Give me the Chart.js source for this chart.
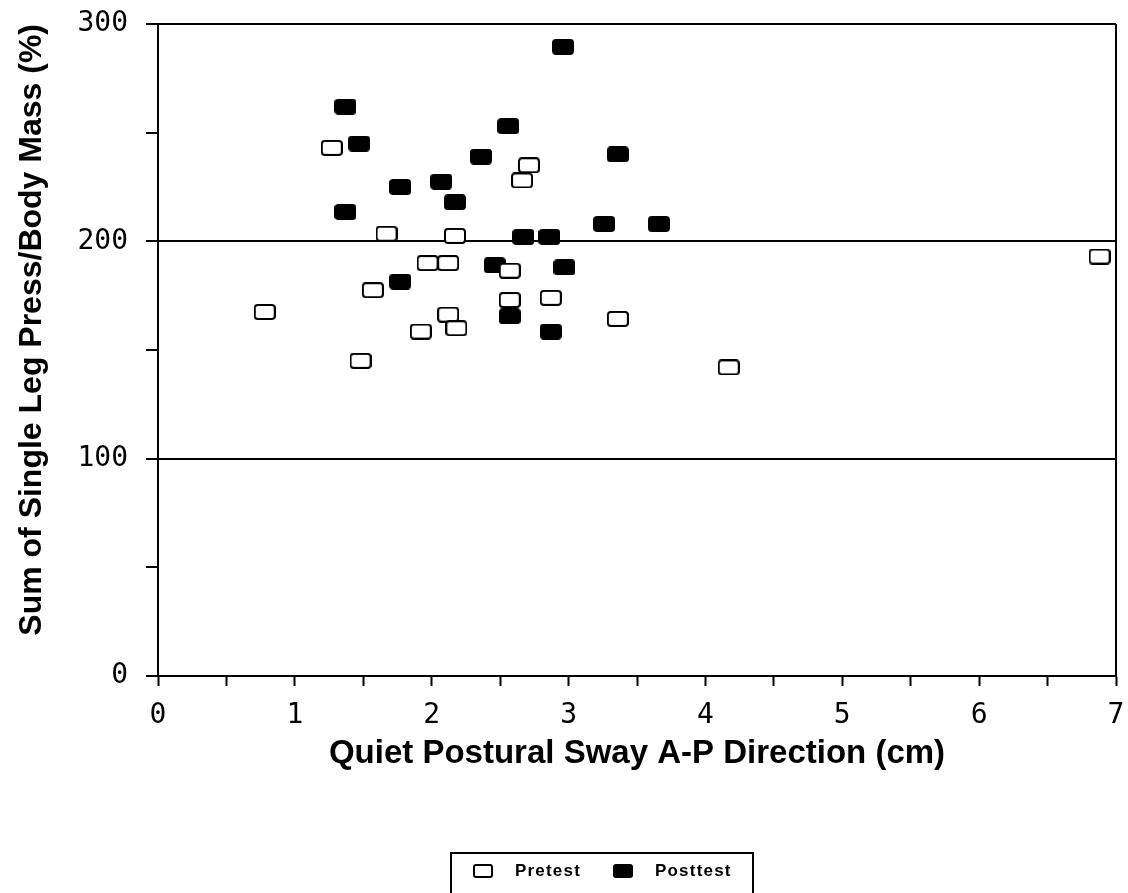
<!DOCTYPE html>
<html lang="en">
<head>
<meta charset="UTF-8">
<title>Leg press vs postural sway</title>
<script src="https://cdn.jsdelivr.net/npm/chart.js"></script>
<style>
    html, body { margin: 0; padding: 0; background: #fff; }
    .wrap { position: relative; width: 1128px; height: 893px; overflow: hidden; }
    #grafico { position: absolute; left: 0; top: 0; }
    .legenda {
        position: absolute; left: 450px; top: 852px; width: 304px; height: 60px;
        border: 2px solid #000; box-sizing: border-box;
        font-family: "Liberation Sans", Arial, sans-serif; font-weight: bold;
        font-size: 17px; letter-spacing: 1.2px; color: #000;
    }
    .legenda .item { position: absolute; top: 7px; display: flex; align-items: center; }
    .legenda .marca { width: 16px; height: 10px; border: 2px solid #000; border-radius: 3px; margin-right: 22px; }
</style>
</head>
<body>
<div class="wrap">
    <canvas id="grafico" width="1128" height="893"></canvas>
    <div class="legenda">
        <div class="item" style="left: 21px;"><span class="marca" style="background:#fff"></span>Pretest</div>
        <div class="item" style="left: 161px;"><span class="marca" style="background:#000"></span>Posttest</div>
    </div>
</div>

<script>
    // valores
    const pretestX  = [1.27, 1.67, 2.17, 2.71, 2.66, 1.97, 2.12, 2.57, 1.57, 0.78, 2.12, 2.18, 1.92, 1.48, 2.57, 2.87, 3.36, 4.17, 6.88];
    const pretestY  = [243, 203.5, 202.5, 235, 228, 190, 190, 186.5, 177.5, 167.5, 166.3, 160, 158.5, 145, 173, 174, 164.3, 142, 193];

    const posttestX = [1.37, 1.47, 1.37, 1.77, 2.07, 2.17, 2.36, 2.56, 2.96, 3.36, 3.26, 3.66, 2.67, 2.86, 2.46, 1.77, 2.97, 2.57, 2.87];
    const posttestY = [262, 245, 213.5, 225, 227.5, 218, 239, 253, 289.5, 240, 208, 208, 202, 202, 189, 181.5, 188, 165.5, 158.5];

    const xTicks = [0, 1, 2, 3, 4, 5, 6, 7];
    const yTicks = [0, 100, 200, 300];

    function pontos(xs, ys) {
        let lista = [];
        for (let i = 0; i < xs.length; i++) {
            lista.push({ x: xs[i], y: ys[i] });
        }
        return lista;
    }

    // marcador retangular arredondado (mais largo que alto)
    function marcador(preenchido) {
        const c = document.createElement('canvas');
        c.width = 22;
        c.height = 16;
        const g = c.getContext('2d');
        g.beginPath();
        g.roundRect(1, 1, 20, 14, 3);
        g.fillStyle = preenchido ? '#000' : '#fff';
        g.fill();
        g.lineWidth = 2;
        g.strokeStyle = '#000';
        g.stroke();
        return c;
    }

    const bordaDireita = {
        id: 'bordaDireita',
        afterDraw(chart) {
            const a = chart.chartArea;
            const ctx = chart.ctx;
            ctx.save();
            ctx.strokeStyle = '#000';
            ctx.lineWidth = 2;
            ctx.beginPath();
            ctx.moveTo(a.right, a.top);
            ctx.lineTo(a.right, a.bottom);
            ctx.stroke();
            ctx.restore();
        }
    };

    const fonteTicks = { family: '"DejaVu Sans Mono", monospace', size: 28 };

    const config = {
        type: 'scatter',
        data: {
            datasets: [{
                label: 'Pretest',
                data: pontos(pretestX, pretestY),
                pointStyle: marcador(false),
                pointRadius: 1,
                pointHoverRadius: 0,
                borderWidth: 0
            }, {
                label: 'Posttest',
                data: pontos(posttestX, posttestY),
                pointStyle: marcador(true),
                pointRadius: 1,
                pointHoverRadius: 0,
                borderWidth: 0
            }]
        },
        options: {
            responsive: false,
            animation: false,
            layout: { padding: { top: 24, right: 12, bottom: 0, left: 0 } },
            plugins: {
                legend: { display: false },
                tooltip: { enabled: false }
            },
            scales: {
                x: {
                    type: 'linear',
                    min: 0,
                    max: 7,
                    afterFit: function (s) {
                        s.height = 217;
                        s.paddingLeft = 0;
                        s.paddingRight = 0;
                    },
                    ticks: {
                        stepSize: 0.5,
                        color: '#000',
                        font: fonteTicks,
                        padding: 13,
                        maxRotation: 0,
                        callback: function (v) { return xTicks.includes(v) ? String(v) : ''; }
                    },
                    grid: { drawOnChartArea: false, tickLength: 10, tickColor: '#000', tickWidth: 2, color: '#000' },
                    border: { color: '#000', width: 2 },
                    title: {
                        display: true,
                        text: 'Quiet Postural Sway A-P Direction (cm)',
                        color: '#000',
                        font: { family: '"Liberation Sans", Arial, sans-serif', size: 33, weight: 'bold' },
                        padding: { top: 0, bottom: 119 }
                    }
                },
                y: {
                    min: 0,
                    max: 300,
                    afterFit: function (s) {
                        s.width = 158;
                        s.paddingTop = 0;
                        s.paddingBottom = 0;
                    },
                    ticks: {
                        stepSize: 50,
                        color: '#000',
                        font: fonteTicks,
                        padding: 18,
                        callback: function (v) { return yTicks.includes(v) ? String(v) : ''; }
                    },
                    grid: {
                        tickLength: 12,
                        tickWidth: 2,
                        lineWidth: 2,
                        tickColor: '#000',
                        color: function (ctx) {
                            return ctx.tick && yTicks.includes(ctx.tick.value) ? '#000' : 'rgba(0,0,0,0)';
                        }
                    },
                    border: { color: '#000', width: 2 },
                    title: {
                        display: true,
                        align: 'end',
                        text: 'Sum of Single Leg Press/Body Mass (%)',
                        color: '#000',
                        font: { family: '"Liberation Sans", Arial, sans-serif', size: 32, weight: 'bold' },
                        padding: { top: 13, bottom: 0 }
                    }
                }
            }
        },
        plugins: [bordaDireita]
    };

    let myChart = new Chart(document.getElementById('grafico'), config);
</script>
</body>
</html>
